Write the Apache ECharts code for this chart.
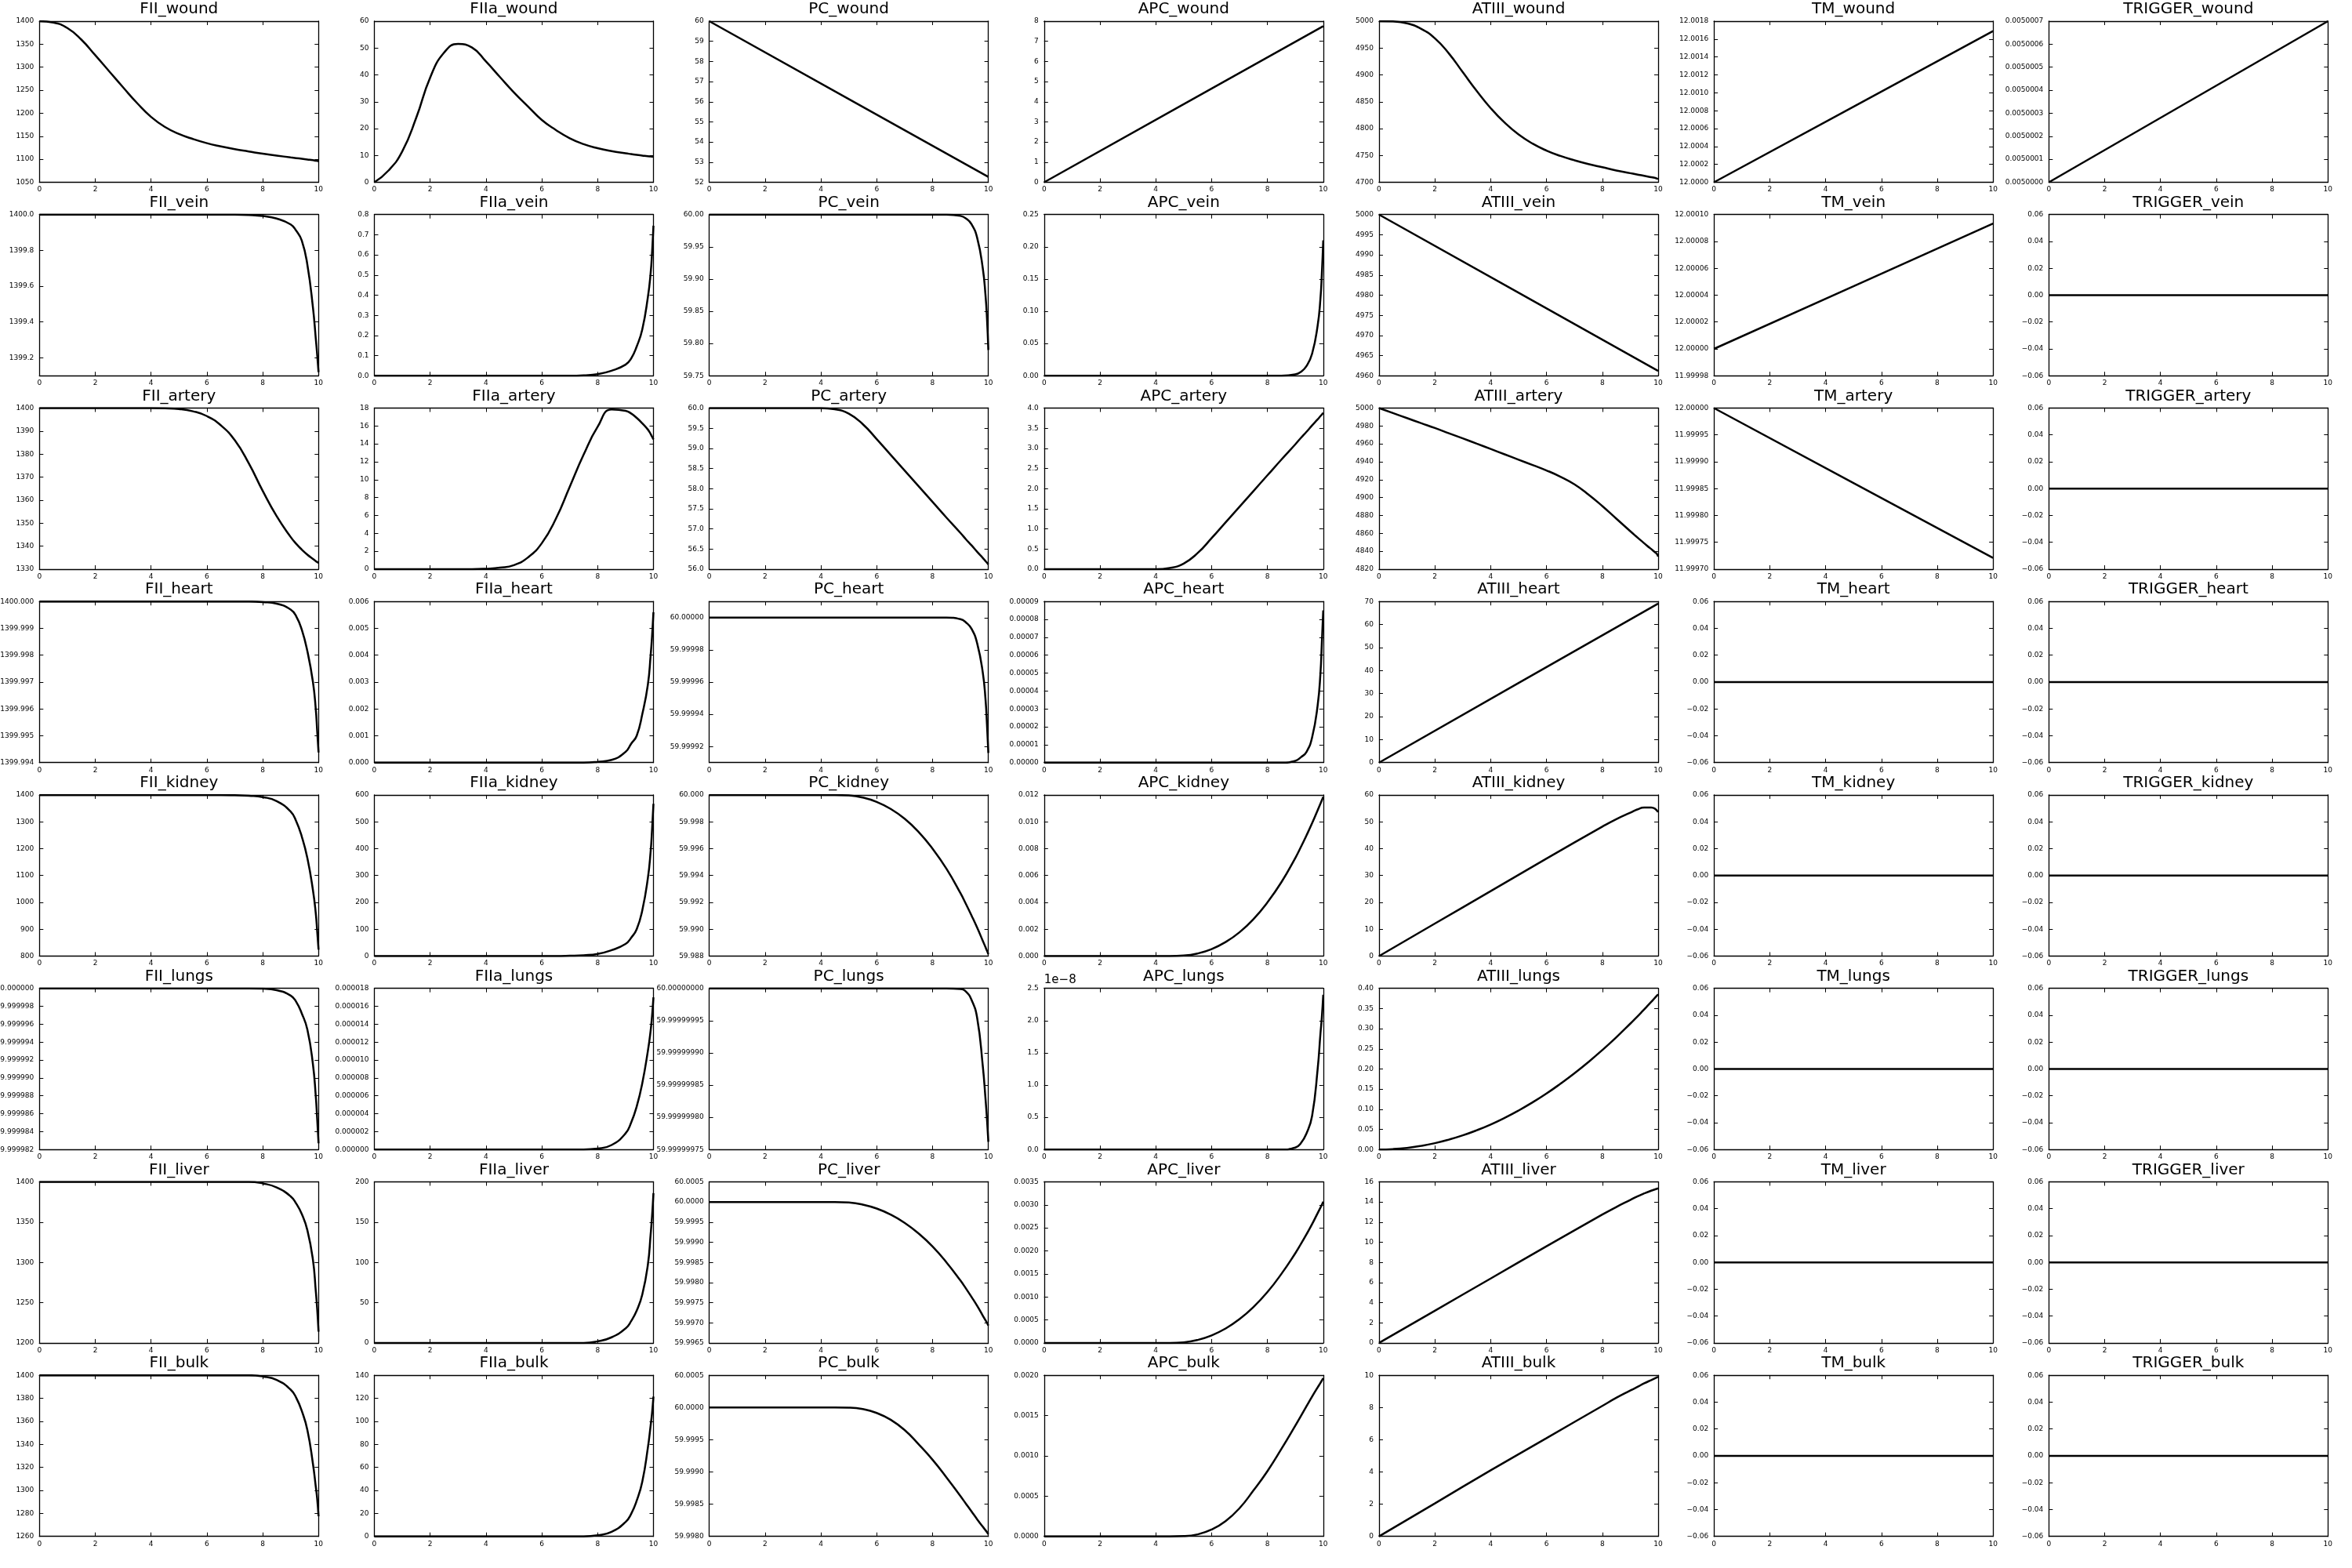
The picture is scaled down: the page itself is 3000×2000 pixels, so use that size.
<!DOCTYPE html>
<html><head><meta charset="utf-8">
<script src="https://cdn.jsdelivr.net/npm/echarts@6/dist/echarts.min.js"></script>
<style>html,body{margin:0;padding:0;background:#fff}#c{width:3000px;height:2000px}</style>
</head><body><div id="c"></div>
<script>
// ---------- x grids ----------
const XG = [0,0.5,1,1.5,2,2.5,3,3.5,4,4.5,5,5.5,6,6.5,7,7.5,8,8.5,9,9.2,9.4,9.6,9.8,9.9,9.95,10];
const XL = [0,5,10];
const XA = [0,2,4,6,8,8.5,9,9.25,9.5,9.75,10];
const XZ = [0,10];
const ZERO = [0,0];

// ---------- wound ----------
const FII_wound = [1400,1397,1385,1360,1326,1291,1256,1222,1192,1170,1155,1144,1135,1128,1122,1117,1112,1108,1104,1102.5,1101,1099.5,1098,1097,1096.5,1096];
const FIIa_wound = [0,4.3,11.5,24,39,48.3,51.5,50.2,45,39.2,33.5,28.3,23.2,19.5,16.4,14.2,12.7,11.6,10.8,10.5,10.2,9.95,9.7,9.6,9.55,9.5];
const PC_wound = [60,56.13,52.27];
const APC_wound = [0,3.88,7.75];
const ATIII_wound = [5000,4999.5,4996,4986,4968,4940,4905,4870,4838,4811,4789,4772,4759,4749,4741,4734,4728,4722,4717,4715,4713,4711,4709,4708,4707,4706];
const TM_wound = [12,12.000845,12.00169];
const TRIGGER_wound = [0.005,0.00500035,0.0050007];

// ---------- vein ----------
const FII_vein = [1400,1400,1400,1400,1400,1400,1400,1400,1400,1400,1400,1400,1400,1400,1400,1399.998,1399.992,1399.978,1399.945,1399.91,1399.855,1399.72,1399.48,1399.31,1399.22,1399.12];
const FIIa_vein = [0,0,0,0,0,0,0,0,0,0,0,0,0,0,0,0.002,0.008,0.025,0.055,0.085,0.145,0.23,0.39,0.51,0.61,0.745];
const PC_vein = [60,60,60,60,60,60,60,60,60,60,60,60,60,60,60,60,60,60,59.998,59.994,59.985,59.964,59.917,59.874,59.84,59.79];
const APC_vein = [0,0,0,0,0,0,0,0,0,0,0,0,0,0,0,0,0,0,0.002,0.006,0.015,0.034,0.078,0.12,0.158,0.21];
const ATIII_vein = [5000,4980.6,4961.2];
const TM_vein = [12,12.0000467,12.0000933];

// ---------- artery ----------
const FII_artery = [1400,1400,1400,1400,1400,1400,1400,1400,1400,1399.9,1399.6,1398.6,1396.5,1392.5,1386,1376,1364,1353,1344,1341,1338.5,1336.3,1334.4,1333.5,1333.1,1332.7];
const FIIa_artery = [0,0,0,0,0,0,0,0,0.05,0.17,0.45,1.3,2.9,5.6,9.2,12.8,15.9,17.85,17.7,17.4,16.9,16.3,15.6,15.1,14.8,14.5];
const PC_artery = [60,60,60,60,60,60,60,60,60,59.97,59.86,59.6,59.23,58.84,58.45,58.06,57.67,57.28,56.9,56.74,56.59,56.43,56.28,56.2,56.16,56.12];
const APC_artery = [0,0,0,0,0,0,0,0,0,0.03,0.14,0.4,0.77,1.16,1.55,1.94,2.33,2.72,3.1,3.26,3.41,3.57,3.72,3.8,3.84,3.88];
const ATIII_artery = [5000,4994.4,4988.8,4983.2,4977.7,4971.9,4966.1,4960.2,4954.3,4948.3,4942.3,4936.3,4930.3,4923.3,4914.8,4903.5,4890.5,4876.5,4862.5,4857,4851.6,4846.3,4841.2,4838.6,4837.3,4834];
const TM_artery = [12,11.9998605,11.999721];

// ---------- heart ----------
const FII_heart = [1400,1400,1400,1400,1400,1400,1400,1400,1400,1400,1400,1400,1400,1400,1400,1400,1399.99998,1399.99992,1399.9997,1399.99945,1399.99895,1399.99815,1399.997,1399.996,1399.9952,1399.99438];
const FIIa_heart = [0,0,0,0,0,0,0,0,0,0,0,0,0,0,0,0,0.00003,0.0001,0.0004,0.0007,0.001,0.0018,0.0029,0.004,0.0047,0.0056];
const PC_heart = [60,60,60,60,60,60,60,60,60,60,60,60,60,60,60,60,60,60,59.999999,59.999997,59.999993,59.999984,59.999966,59.999949,59.999934,59.999916];
const APC_heart = [0,0,0,0,0,0,0,0,0,0,0,0,0,0,0,0,0,0,0.000001,0.000003,0.000006,0.000014,0.000032,0.00005,0.000067,0.000085];
const ATIII_heart = [0,34.6,69.1];

// ---------- kidney ----------
const FII_kidney = [1400,1400,1400,1400,1400,1400,1400,1400,1400,1400,1400,1400,1400,1400,1399,1397,1392,1377,1338,1302,1245,1165,1045,960,895,824];
const FIIa_kidney = [0,0,0,0,0,0,0,0,0,0,0,0,0,0,1,3,8,22,45,68,100,170,290,390,470,567];
const PC_kidney = [60,60,60,60,60,60,60,60,60,60,59.999963,59.999805,59.99948,59.99896,59.99823,59.99725,59.996,59.9945,59.99269,59.99187,59.99101,59.99011,59.98914,59.98865,59.9884,59.98814];
const APC_kidney = [0,0,0,0,0,0,0,0,0,0,0.000037,0.000195,0.00052,0.00104,0.00177,0.00275,0.004,0.0055,0.00731,0.00813,0.00899,0.00989,0.01086,0.01135,0.0116,0.01186];
const ATIII_kidney = [0,12.1,24.2,36.3,48.2,51.0,53.4,54.6,55.3,55.3,53.6];

// ---------- lungs ----------
const FII_lungs = [1400,1400,1400,1400,1400,1400,1400,1400,1400,1400,1400,1400,1400,1400,1400,1400,1399.99999997,1399.9999998,1399.9999992,1399.9999985,1399.9999972,1399.9999954,1399.9999915,1399.999988,1399.9999855,1399.9999827];
const FIIa_lungs = [0,0,0,0,0,0,0,0,0,0,0,0,0,0,0,0,0.0000001,0.0000005,0.0000018,0.000003,0.0000048,0.0000074,0.000011,0.0000133,0.0000149,0.000017];
const PC_lungs = [60,60,60,60,60,60,60,60,60,60,60,60,60,60,60,60,60,60,59.999999999,59.999999995,59.999999982,59.999999954,59.99999988,59.999999828,59.999999798,59.999999762];
const APC_lungs = [0,0,0,0,0,0,0,0,0,0,0,0,0,0,0,0,0,0,3e-10,1e-9,2.5e-9,5.2e-9,1.25e-8,1.8e-8,2.05e-8,2.4e-8];
const ATIII_lungs = [0,0.00106,0.004,0.00893,0.0157,0.0245,0.0351,0.0477,0.0621,0.0785,0.0968,0.117,0.139,0.1633,0.1892,0.2171,0.2469,0.2786,0.3123,0.3263,0.3406,0.3552,0.3701,0.3777,0.3815,0.3853];

// ---------- liver ----------
const FII_liver = [1400,1400,1400,1400,1400,1400,1400,1400,1400,1400,1400,1400,1400,1400,1400,1400,1398,1393,1382,1373,1360,1340,1303,1265,1243,1214];
const FIIa_liver = [0,0,0,0,0,0,0,0,0,0,0,0,0,0,0,0,2,7,18,27,40,60,97,135,157,186];
const PC_liver = [60,60,60,60,60,60,60,60,60,60,59.9999863,59.9999346,59.999837,59.999687,59.999483,59.999219,59.998895,59.9985,59.99805,59.99785,59.99764,59.99742,59.99718,59.99706,59.997,59.99693];
const APC_liver = [0,0,0,0,0,0,0,0,0,0,0.0000137,0.0000654,0.000163,0.000313,0.000517,0.000781,0.001105,0.0015,0.00195,0.00215,0.00236,0.00258,0.00282,0.00294,0.003,0.00307];
const ATIII_liver = [0,3.2,6.4,9.6,12.75,13.5,14.2,14.55,14.85,15.12,15.35];

// ---------- bulk ----------
const FII_bulk = [1400,1400,1400,1400,1400,1400,1400,1400,1400,1400,1400,1400,1400,1400,1400,1400,1399,1396,1387.5,1380.5,1369,1352.5,1323,1303.5,1293,1277.5];
const FIIa_bulk = [0,0,0,0,0,0,0,0,0,0,0,0,0,0,0,0,1,4,12.5,19.5,31,47.5,77,96.5,107,121.5];
const PC_bulk = [60,60,60,60,60,60,60,60,60,60,59.999997,59.999975,59.999915,59.99981,59.99965,59.99943,59.99919,59.998915,59.998625,59.998505,59.998385,59.998265,59.99815,59.998095,59.998065,59.998035];
const APC_bulk = [0,0,0,0,0,0,0,0,0,0,0.000003,0.000025,0.000085,0.00019,0.00035,0.00057,0.00081,0.001085,0.001375,0.001495,0.001615,0.001735,0.00185,0.001905,0.001935,0.001965];
const ATIII_bulk = [0,2.05,4.1,6.1,8.1,8.6,9.05,9.27,9.5,9.7,9.9];

// ---------- y-axis specs: [min, max, first tick, tick step, label decimals, label exponent] ----------
const ZERO_axis = [-0.06, 0.06, -0.06, 0.02, 2];
const FII_wound_axis = [1050, 1400, 1050, 50, 0];
const FIIa_wound_axis = [0, 60, 0, 10, 0];
const PC_wound_axis = [52, 60, 52, 1, 0];
const APC_wound_axis = [0, 8, 0, 1, 0];
const ATIII_wound_axis = [4700, 5000, 4700, 50, 0];
const TM_wound_axis = [12.0, 12.0018, 12.0, 0.0002, 4];
const TRIGGER_wound_axis = [0.005, 0.0050007, 0.005, 0.0000001, 7];
const FII_vein_axis = [1399.1, 1400.0, 1399.2, 0.2, 1];
const FIIa_vein_axis = [0, 0.8, 0, 0.1, 1];
const PC_vein_axis = [59.75, 60, 59.75, 0.05, 2];
const APC_vein_axis = [0, 0.25, 0, 0.05, 2];
const ATIII_vein_axis = [4960, 5000, 4960, 5, 0];
const TM_vein_axis = [11.99998, 12.0001, 11.99998, 0.00002, 5];
const FII_artery_axis = [1330, 1400, 1330, 10, 0];
const FIIa_artery_axis = [0, 18, 0, 2, 0];
const PC_artery_axis = [56, 60, 56, 0.5, 1];
const APC_artery_axis = [0, 4, 0, 0.5, 1];
const ATIII_artery_axis = [4820, 5000, 4820, 20, 0];
const TM_artery_axis = [11.9997, 12, 11.9997, 0.00005, 5];
const FII_heart_axis = [1399.994, 1400, 1399.994, 0.001, 3];
const FIIa_heart_axis = [0, 0.006, 0, 0.001, 3];
const PC_heart_axis = [59.99991, 60.00001, 59.99992, 0.00002, 5];
const APC_heart_axis = [0, 0.00009, 0, 0.00001, 5];
const ATIII_heart_axis = [0, 70, 0, 10, 0];
const FII_kidney_axis = [800, 1400, 800, 100, 0];
const FIIa_kidney_axis = [0, 600, 0, 100, 0];
const PC_kidney_axis = [59.988, 60, 59.988, 0.002, 3];
const APC_kidney_axis = [0, 0.012, 0, 0.002, 3];
const ATIII_kidney_axis = [0, 60, 0, 10, 0];
const FII_lungs_axis = [1399.999982, 1400, 1399.999982, 0.000002, 6];
const FIIa_lungs_axis = [0, 0.000018, 0, 0.000002, 6];
const PC_lungs_axis = [59.99999975, 60, 59.99999975, 0.00000005, 8];
const APC_lungs_axis = [0, 2.5e-8, 0, 0.5e-8, 1, -8];
const ATIII_lungs_axis = [0, 0.4, 0, 0.05, 2];
const FII_liver_axis = [1200, 1400, 1200, 50, 0];
const FIIa_liver_axis = [0, 200, 0, 50, 0];
const PC_liver_axis = [59.9965, 60.0005, 59.9965, 0.0005, 4];
const APC_liver_axis = [0, 0.0035, 0, 0.0005, 4];
const ATIII_liver_axis = [0, 16, 0, 2, 0];
const FII_bulk_axis = [1260, 1400, 1260, 20, 0];
const FIIa_bulk_axis = [0, 140, 0, 20, 0];
const PC_bulk_axis = [59.998, 60.0005, 59.998, 0.0005, 4];
const APC_bulk_axis = [0, 0.002, 0, 0.0005, 4];
const ATIII_bulk_axis = [0, 10, 0, 2, 0];

// ---------- panel table (row-major, 8 rows x 7 columns) ----------
const PANELS = [
 ['FII_wound',XG,FII_wound,FII_wound_axis],['FIIa_wound',XG,FIIa_wound,FIIa_wound_axis],['PC_wound',XL,PC_wound,PC_wound_axis],['APC_wound',XL,APC_wound,APC_wound_axis],['ATIII_wound',XG,ATIII_wound,ATIII_wound_axis],['TM_wound',XL,TM_wound,TM_wound_axis],['TRIGGER_wound',XL,TRIGGER_wound,TRIGGER_wound_axis],
 ['FII_vein',XG,FII_vein,FII_vein_axis],['FIIa_vein',XG,FIIa_vein,FIIa_vein_axis],['PC_vein',XG,PC_vein,PC_vein_axis],['APC_vein',XG,APC_vein,APC_vein_axis],['ATIII_vein',XL,ATIII_vein,ATIII_vein_axis],['TM_vein',XL,TM_vein,TM_vein_axis],['TRIGGER_vein',XZ,ZERO,ZERO_axis],
 ['FII_artery',XG,FII_artery,FII_artery_axis],['FIIa_artery',XG,FIIa_artery,FIIa_artery_axis],['PC_artery',XG,PC_artery,PC_artery_axis],['APC_artery',XG,APC_artery,APC_artery_axis],['ATIII_artery',XG,ATIII_artery,ATIII_artery_axis],['TM_artery',XL,TM_artery,TM_artery_axis],['TRIGGER_artery',XZ,ZERO,ZERO_axis],
 ['FII_heart',XG,FII_heart,FII_heart_axis],['FIIa_heart',XG,FIIa_heart,FIIa_heart_axis],['PC_heart',XG,PC_heart,PC_heart_axis],['APC_heart',XG,APC_heart,APC_heart_axis],['ATIII_heart',XL,ATIII_heart,ATIII_heart_axis],['TM_heart',XZ,ZERO,ZERO_axis],['TRIGGER_heart',XZ,ZERO,ZERO_axis],
 ['FII_kidney',XG,FII_kidney,FII_kidney_axis],['FIIa_kidney',XG,FIIa_kidney,FIIa_kidney_axis],['PC_kidney',XG,PC_kidney,PC_kidney_axis],['APC_kidney',XG,APC_kidney,APC_kidney_axis],['ATIII_kidney',XA,ATIII_kidney,ATIII_kidney_axis],['TM_kidney',XZ,ZERO,ZERO_axis],['TRIGGER_kidney',XZ,ZERO,ZERO_axis],
 ['FII_lungs',XG,FII_lungs,FII_lungs_axis],['FIIa_lungs',XG,FIIa_lungs,FIIa_lungs_axis],['PC_lungs',XG,PC_lungs,PC_lungs_axis],['APC_lungs',XG,APC_lungs,APC_lungs_axis],['ATIII_lungs',XG,ATIII_lungs,ATIII_lungs_axis],['TM_lungs',XZ,ZERO,ZERO_axis],['TRIGGER_lungs',XZ,ZERO,ZERO_axis],
 ['FII_liver',XG,FII_liver,FII_liver_axis],['FIIa_liver',XG,FIIa_liver,FIIa_liver_axis],['PC_liver',XG,PC_liver,PC_liver_axis],['APC_liver',XG,APC_liver,APC_liver_axis],['ATIII_liver',XA,ATIII_liver,ATIII_liver_axis],['TM_liver',XZ,ZERO,ZERO_axis],['TRIGGER_liver',XZ,ZERO,ZERO_axis],
 ['FII_bulk',XG,FII_bulk,FII_bulk_axis],['FIIa_bulk',XG,FIIa_bulk,FIIa_bulk_axis],['PC_bulk',XG,PC_bulk,PC_bulk_axis],['APC_bulk',XG,APC_bulk,APC_bulk_axis],['ATIII_bulk',XA,ATIII_bulk,ATIII_bulk_axis],['TM_bulk',XZ,ZERO,ZERO_axis],['TRIGGER_bulk',XZ,ZERO,ZERO_axis]
];

// ---------- layout ----------
const FONT = 'DejaVu Sans';
const L0 = 50.3, CS = 427.17, GW = 356, T0 = 27, RS = 246.74, GH = 205.5;

function fmt(v, dec, exp) {
  let x = exp ? v / Math.pow(10, exp) : v;
  let s = x.toFixed(dec);
  if (/^-0(\.0*)?$/.test(s)) s = s.slice(1);
  if (s.charAt(0) === '-') s = '\u2212' + s.slice(1);
  return s;
}

const chart = echarts.init(document.getElementById('c'), null, {renderer: 'canvas', width: 3000, height: 2000});
const grids = [], xAxes = [], yAxes = [], series = [], titles = [];
const axLine = {show: true, onZero: false, lineStyle: {color: '#000', width: 1.3}};
const axTickBase = {show: true, inside: true, length: 5, lineStyle: {color: '#000', width: 1}};

PANELS.forEach((p, i) => {
  const r = Math.floor(i / 7), c = i % 7;
  const name = p[0], xs = p[1], ys = p[2], ax = p[3];
  const mn = ax[0], mx = ax[1], t0 = ax[2], st = ax[3], dec = ax[4], exp = ax[5] || 0;
  const prec = dec - exp + 4;
  const ticks = [];
  const n = Math.floor((mx - t0) / st + 1e-6);
  for (let k = 0; k <= n; k++) {
    let v = parseFloat((t0 + k * st).toFixed(prec));
    v = Math.min(Math.max(v, mn), mx);
    ticks.push(v);
  }
  const left = L0 + CS * c, top = T0 + RS * r;
  grids.push({left: left, top: top, width: GW, height: GH, containLabel: false, outerBoundsMode: 'none', show: false});
  xAxes.push({gridIndex: i, type: 'value', position: 'bottom', min: 0, max: 10, interval: 2,
    axisLine: axLine, axisTick: axTickBase,
    axisLabel: {show: true, margin: 5, fontSize: 9, fontFamily: FONT, color: '#000'},
    splitLine: {show: false}});
  xAxes.push({gridIndex: i, type: 'value', position: 'top', min: 0, max: 10, interval: 2,
    axisLine: axLine, axisTick: axTickBase, axisLabel: {show: false}, splitLine: {show: false}});
  yAxes.push({gridIndex: i, type: 'value', position: 'left', min: mn, max: mx,
    axisLine: axLine, axisTick: Object.assign({}, axTickBase, {customValues: ticks}),
    axisLabel: {show: true, customValues: ticks, margin: 7, fontSize: 9, fontFamily: FONT, color: '#000',
      formatter: (v) => fmt(v, dec, exp)},
    splitLine: {show: false}});
  yAxes.push({gridIndex: i, type: 'value', position: 'right', min: mn, max: mx,
    axisLine: axLine, axisTick: Object.assign({}, axTickBase, {customValues: ticks}),
    axisLabel: {show: false, customValues: ticks}, splitLine: {show: false}});
  series.push({type: 'line', name: name, xAxisIndex: 2 * i, yAxisIndex: 2 * i,
    data: xs.map((x, k) => [x, ys[k]]), showSymbol: false, symbol: 'none', smooth: 0.5,
    lineStyle: {color: '#000', width: 2.5}, silent: true});
  titles.push({text: name, left: left + GW / 2, top: top - 25, textAlign: 'center', padding: 0,
    textStyle: {fontFamily: FONT, fontSize: 20, fontWeight: 'normal', color: '#000'}});
  if (exp) {
    titles.push({text: '1e\u2212' + (-exp), left: left, top: top - 18, textAlign: 'left', padding: 0,
      textStyle: {fontFamily: FONT, fontSize: 15, fontWeight: 'normal', color: '#000'}});
  }
});

chart.setOption({animation: false, backgroundColor: '#fff', title: titles, grid: grids, xAxis: xAxes, yAxis: yAxes, series: series});
</script>
</body></html>
